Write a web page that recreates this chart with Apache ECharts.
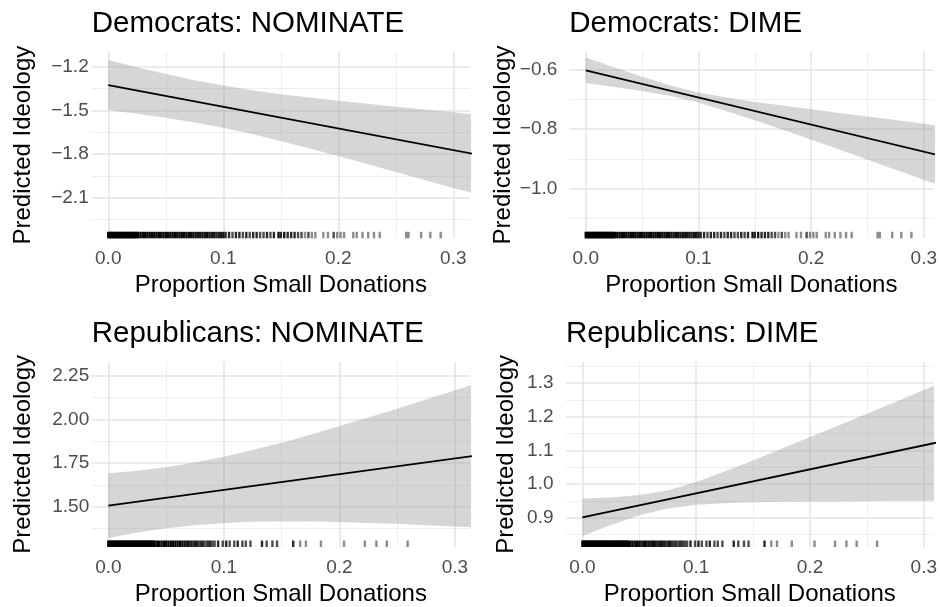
<!DOCTYPE html>
<html>
<head>
<meta charset="utf-8">
<script src="https://cdn.jsdelivr.net/npm/echarts@6/dist/echarts.min.js"></script>
<style>
  html, body { margin: 0; padding: 0; background: #ffffff; }
  #chart { width: 940px; height: 607px; }
</style>
</head>
<body>
<div id="chart"></div>
<script>
// ---- Text ----
const panelTitles = ['Democrats: NOMINATE', 'Democrats: DIME', 'Republicans: NOMINATE', 'Republicans: DIME'];
const xAxisTitle = 'Proportion Small Donations';
const yAxisTitle = 'Predicted Ideology';

// ---- Tick positions ----
const xTicks = [0, 0.1, 0.2, 0.3];
const xMinorTicks = [0.05, 0.15, 0.25];
const demNomYTicks = [-2.1, -1.8, -1.5, -1.2];
const demNomYMinor = [-2.25, -1.95, -1.65, -1.35];
const demDimeYTicks = [-1.0, -0.8, -0.6];
const demDimeYMinor = [-1.1, -0.9, -0.7];
const repNomYTicks = [1.5, 1.75, 2.0, 2.25];
const repNomYMinor = [1.375, 1.625, 1.875, 2.125];
const repDimeYTicks = [0.9, 1.0, 1.1, 1.2, 1.3];
const repDimeYMinor = [0.85, 0.95, 1.05, 1.15, 1.25, 1.35];

// ---- Fitted lines (at fitX) and 95% bands (at bandX) ----
const fitX = [0, 0.325];
const bandX = [0, 0.025, 0.05, 0.075, 0.1, 0.125, 0.15, 0.175, 0.2, 0.225, 0.25, 0.275, 0.3, 0.325];

const demNomFit = [-1.326, -1.810];
const demNomLower = [-1.498, -1.523, -1.551, -1.583, -1.620, -1.662, -1.710, -1.762, -1.814, -1.868, -1.923, -1.978, -2.033, -2.085];
const demNomUpper = [-1.154, -1.203, -1.251, -1.293, -1.330, -1.362, -1.390, -1.412, -1.434, -1.454, -1.475, -1.494, -1.513, -1.535];

const demDimeFit = [-0.601, -0.899];
const demDimeLower = [-0.644, -0.657, -0.671, -0.688, -0.710, -0.739, -0.770, -0.802, -0.836, -0.869, -0.903, -0.937, -0.971, -1.004];
const demDimeUpper = [-0.558, -0.591, -0.623, -0.652, -0.676, -0.693, -0.708, -0.720, -0.733, -0.745, -0.757, -0.769, -0.782, -0.794];

const repNomFit = [1.506, 1.799];
const repNomLower = [1.321, 1.352, 1.376, 1.394, 1.406, 1.413, 1.415, 1.415, 1.412, 1.407, 1.402, 1.394, 1.387, 1.378];
const repNomUpper = [1.691, 1.706, 1.726, 1.754, 1.786, 1.825, 1.867, 1.913, 1.962, 2.011, 2.062, 2.114, 2.167, 2.220];

const repDimeFit = [0.901, 1.133];
const repDimeLower = [0.845, 0.878, 0.907, 0.927, 0.938, 0.943, 0.946, 0.947, 0.948, 0.948, 0.949, 0.950, 0.950, 0.951];
const repDimeUpper = [0.957, 0.960, 0.967, 0.981, 1.006, 1.037, 1.070, 1.105, 1.140, 1.174, 1.209, 1.244, 1.280, 1.315];

// ---- Rug: observed proportions (value, number of members at that value) ----
const demRugX = [
  0.000, 0.001, 0.002, 0.003, 0.004, 0.005, 0.006, 0.007, 0.008, 0.009, 0.010, 0.011, 0.012, 0.013,
  0.014, 0.015, 0.016, 0.017, 0.018, 0.019, 0.020, 0.021, 0.022, 0.023, 0.024, 0.025, 0.026,
  0.028, 0.030, 0.032, 0.034, 0.036, 0.038, 0.040, 0.042, 0.044, 0.046, 0.048, 0.050, 0.052,
  0.054, 0.056, 0.058, 0.060, 0.062, 0.064, 0.066, 0.068, 0.070, 0.072, 0.074, 0.076, 0.078,
  0.080, 0.082, 0.084, 0.086, 0.088, 0.090, 0.092, 0.094, 0.096, 0.098, 0.100,
  0.102, 0.105, 0.108, 0.111, 0.114, 0.117, 0.120, 0.123, 0.126, 0.129, 0.132, 0.135, 0.138, 0.141, 0.144,
  0.148, 0.150, 0.153, 0.156, 0.159, 0.162, 0.165, 0.168,
  0.171, 0.174, 0.177, 0.180,
  0.187, 0.191, 0.196, 0.199, 0.202, 0.205,
  0.213, 0.216, 0.221, 0.226, 0.231, 0.236,
  0.259, 0.261, 0.272, 0.280, 0.289
];
const demRugN = [
  9, 9, 9, 9, 9, 9, 9, 9, 9, 9, 9, 9, 9, 9,
  9, 9, 9, 9, 9, 9, 9, 9, 9, 9, 9, 9, 9,
  7, 6, 7, 6, 6, 6, 7, 6, 6, 5, 6, 6, 5,
  6, 5, 6, 5, 5, 6, 5, 5, 5, 5, 5, 4, 4,
  5, 4, 4, 5, 4, 4, 4, 3, 4, 4, 4,
  3, 3, 2, 3, 3, 2, 3, 2, 3, 3, 2, 2, 3, 2, 3,
  4, 3, 4, 3, 3, 3, 2, 2,
  1, 2, 1, 1,
  1, 1, 2, 1, 1, 1,
  1, 1, 1, 1, 1, 1,
  1, 1, 1, 1, 1
];
const repRugX = [
  0.000, 0.001, 0.002, 0.003, 0.004, 0.005, 0.006, 0.007, 0.008, 0.009, 0.010, 0.011, 0.012, 0.013,
  0.014, 0.015, 0.016, 0.017, 0.018, 0.019, 0.020, 0.021, 0.022, 0.023, 0.024, 0.025, 0.026, 0.027,
  0.028, 0.029, 0.030, 0.031, 0.032, 0.033, 0.034, 0.035, 0.036, 0.037, 0.038, 0.039, 0.040,
  0.042, 0.044, 0.046, 0.048, 0.050, 0.052, 0.054, 0.056, 0.058, 0.060, 0.062, 0.064, 0.066,
  0.068, 0.070, 0.072, 0.074, 0.076, 0.078, 0.080, 0.082, 0.084, 0.086, 0.088, 0.090,
  0.092, 0.095, 0.099, 0.102, 0.105, 0.109, 0.112, 0.116, 0.119, 0.123,
  0.133, 0.137, 0.142, 0.146,
  0.160, 0.166, 0.171, 0.184, 0.204, 0.222, 0.232, 0.241, 0.259
];
const repRugN = [
  8, 8, 8, 8, 8, 8, 8, 8, 8, 8, 8, 8, 8, 8,
  8, 8, 8, 8, 8, 8, 8, 8, 8, 8, 8, 8, 8, 8,
  8, 8, 8, 8, 8, 8, 8, 8, 8, 8, 8, 8, 8,
  6, 6, 5, 6, 5, 5, 6, 5, 5, 5, 5, 4, 5,
  4, 4, 4, 3, 4, 3, 3, 3, 2, 3, 3, 2,
  2, 3, 2, 3, 2, 2, 3, 2, 2, 2,
  3, 2, 2, 2,
  3, 1, 1, 1, 1, 1, 1, 1, 1
];

// ---- Panel layout (pixel boxes and axis ranges) ----
const panels = [
  { box: { left: 91.7, top: 52, width: 378.3, height: 186.3 }, xr: [-0.0144, 0.3145], yr: [-2.379, -1.099],
    yTicks: demNomYTicks, yMinor: demNomYMinor, dec: 1, fit: demNomFit, lo: demNomLower, hi: demNomUpper,
    rugX: demRugX, rugN: demRugN, labelMargin: 3, nameGap: 56, titleLeft: 91.7, titleTop: 9 },
  { box: { left: 569.3, top: 51.7, width: 370.7, height: 186.6 }, xr: [-0.0146, 0.3086], yr: [-1.169, -0.538],
    yTicks: demDimeYTicks, yMinor: demDimeYMinor, dec: 1, fit: demDimeFit, lo: demDimeLower, hi: demDimeUpper,
    rugX: demRugX, rugN: demRugN, labelMargin: 12, nameGap: 54, titleLeft: 569.3, titleTop: 9 },
  { box: { left: 91.7, top: 361.7, width: 378.3, height: 186.6 }, xr: [-0.0144, 0.313], yr: [1.269, 2.331],
    yTicks: repNomYTicks, yMinor: repNomYMinor, dec: 2, fit: repNomFit, lo: repNomLower, hi: repNomUpper,
    rugX: repRugX, rugN: repRugN, labelMargin: 2.5, nameGap: 56, titleLeft: 91.7, titleTop: 319 },
  { box: { left: 566, top: 361.7, width: 374, height: 186.6 }, xr: [-0.0144, 0.3086], yr: [0.8126, 1.364],
    yTicks: repDimeYTicks, yMinor: repDimeYMinor, dec: 1, fit: repDimeFit, lo: repDimeLower, hi: repDimeUpper,
    rugX: repRugX, rugN: repRugN, labelMargin: 12.5, nameGap: 48, titleLeft: 566, titleTop: 319 }
];

const FONT = '"Liberation Sans", Arial, Helvetica, sans-serif';
const majorGrid = { show: true, lineStyle: { color: '#e5e5e5', width: 1.6 } };
const minorGrid = { show: true, lineStyle: { color: '#eeeeee', width: 1.0 } };

// negative numbers carry a true minus sign
const fmt = (v, d) => (v < 0 ? '\u2212' : '') + Math.abs(v).toFixed(d);

const grids = [], xAxes = [], yAxes = [], series = [], titles = [];

panels.forEach((p, i) => {
  grids.push(Object.assign({ containLabel: false }, p.box));

  titles.push({
    text: panelTitles[i], left: p.titleLeft, top: p.titleTop, padding: 0,
    textStyle: { fontFamily: FONT, fontSize: 29.5, fontWeight: 'normal', color: '#000' }
  });

  // major x axis: labels, title, major grid lines
  xAxes.push({
    type: 'value', gridIndex: i, min: p.xr[0], max: p.xr[1], position: 'bottom',
    axisLine: { show: false }, axisTick: { show: false, customValues: xTicks },
    axisLabel: { customValues: xTicks, formatter: v => fmt(v, 1), color: '#4d4d4d',
                 fontFamily: FONT, fontSize: 19, margin: 11 },
    splitLine: majorGrid,
    name: xAxisTitle, nameLocation: 'middle', nameGap: 35,
    nameTextStyle: { fontFamily: FONT, fontSize: 24, color: '#000' }
  });
  // minor x grid lines
  xAxes.push({
    type: 'value', gridIndex: i, min: p.xr[0], max: p.xr[1], position: 'top',
    axisLine: { show: false }, axisTick: { show: false, customValues: xMinorTicks },
    axisLabel: { show: false, customValues: xMinorTicks },
    splitLine: minorGrid
  });
  // major y axis
  yAxes.push({
    type: 'value', gridIndex: i, min: p.yr[0], max: p.yr[1], position: 'left',
    axisLine: { show: false }, axisTick: { show: false, customValues: p.yTicks },
    axisLabel: { customValues: p.yTicks, formatter: v => fmt(v, p.dec), color: '#4d4d4d',
                 fontFamily: FONT, fontSize: 19, margin: p.labelMargin },
    splitLine: majorGrid,
    name: yAxisTitle, nameLocation: 'middle', nameGap: p.nameGap, nameRotate: 90,
    nameTextStyle: { fontFamily: FONT, fontSize: 24, color: '#000' }
  });
  // minor y grid lines
  yAxes.push({
    type: 'value', gridIndex: i, min: p.yr[0], max: p.yr[1], position: 'right',
    axisLine: { show: false }, axisTick: { show: false, customValues: p.yMinor },
    axisLabel: { show: false, customValues: p.yMinor },
    splitLine: minorGrid
  });

  const xi = 2 * i, yi = 2 * i;

  // confidence band as one polygon: upper edge left to right, lower edge back
  series.push({
    type: 'custom', xAxisIndex: xi, yAxisIndex: yi, silent: true, z: 2, clip: true,
    data: bandX.map((x, k) => [x, p.lo[k], p.hi[k]]),
    encode: { x: 0, y: [1, 2] },
    renderItem: (params, api) => {
      if (params.dataIndex !== 0) return null;
      const upper = bandX.map((x, k) => api.coord([x, p.hi[k]]));
      const lower = bandX.map((x, k) => api.coord([x, p.lo[k]])).reverse();
      return {
        type: 'polygon',
        shape: { points: upper.concat(lower) },
        style: { fill: 'rgba(153,153,153,0.4)' }
      };
    }
  });

  // fitted line
  series.push({
    type: 'line', xAxisIndex: xi, yAxisIndex: yi, data: fitX.map((x, k) => [x, p.fit[k]]),
    symbol: 'none', silent: true, lineStyle: { color: '#000', width: 1.8 }, z: 3
  });

  // rug of observed values along the bottom of the panel
  series.push({
    type: 'custom', xAxisIndex: xi, yAxisIndex: yi, silent: true, z: 4,
    data: p.rugX.map((x, k) => [x, p.rugN[k]]),
    encode: { x: 0 },
    renderItem: (params, api) => {
      const cs = params.coordSys;
      const px = api.coord([api.value(0), p.yr[0]])[0];
      const n = api.value(1);
      const alpha = 1 - Math.pow(1 - 0.45, n);
      return {
        type: 'rect',
        shape: { x: px - 1.2, y: cs.y + cs.height - 6.5, width: 2.4, height: 6.5 },
        style: { fill: 'rgba(0,0,0,' + alpha.toFixed(3) + ')' }
      };
    }
  });
});

const chart = echarts.init(document.getElementById('chart'), null, { renderer: 'canvas' });
chart.setOption({
  backgroundColor: '#ffffff',
  animation: false,
  title: titles,
  grid: grids,
  xAxis: xAxes,
  yAxis: yAxes,
  series: series
});
</script>
</body>
</html>
